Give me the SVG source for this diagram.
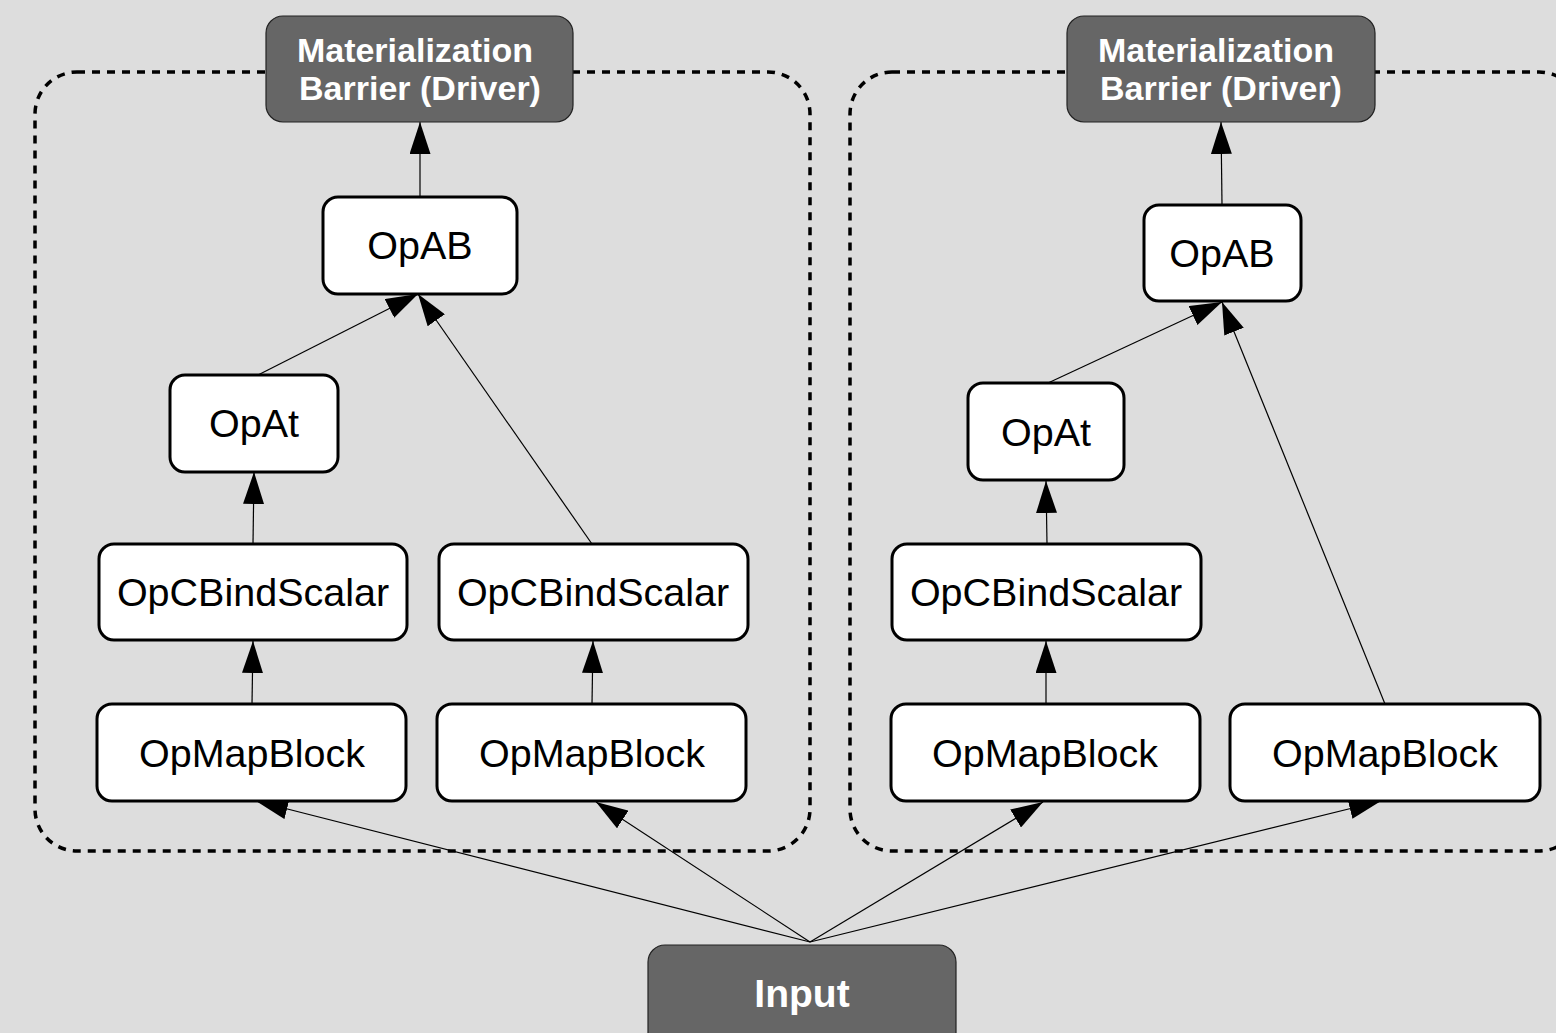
<svg xmlns="http://www.w3.org/2000/svg" width="1556" height="1033" viewBox="0 0 1556 1033">
  <style>
    .cluster { fill: none; stroke: #000; stroke-width: 3.5; stroke-dasharray: 8 7; }
    .op rect { fill: #fff; stroke: #000; stroke-width: 3; }
    .op text { font-family: "Liberation Sans", Arial, sans-serif; font-size: 39.5px; fill: #000; text-anchor: middle; }
    .dark rect { fill: #666; stroke: #222; stroke-width: 1.2; }
    .dark text { font-family: "Liberation Sans", Arial, sans-serif; font-weight: bold; fill: #fff; text-anchor: middle; }
    .edges line { stroke: #000; stroke-width: 1.2; marker-end: url(#arrow); }
  </style>
  <defs>
    <marker id="arrow" viewBox="0 0 32 21" refX="32" refY="10.5" markerWidth="32" markerHeight="21" markerUnits="userSpaceOnUse" orient="auto">
      <path d="M0,0 L32,10.5 L0,21 Z" fill="#000"/>
    </marker>
  </defs>

  <rect width="1556" height="1033" fill="#dddddd"/>

  <!-- dashed subgraph outlines -->
  <g id="clusters">
    <rect class="cluster" x="35" y="72" width="775" height="779" rx="42" ry="42"/>
    <rect class="cluster" x="850" y="72" width="731" height="779" rx="42" ry="42"/>
  </g>

  <!-- connectors -->
  <g id="edges" class="edges">
    <line x1="420" y1="197" x2="420" y2="122"/>
    <line x1="258" y1="375" x2="418" y2="294"/>
    <line x1="592" y1="544" x2="418" y2="294"/>
    <line x1="253" y1="544" x2="254" y2="472"/>
    <line x1="252" y1="704" x2="253" y2="641"/>
    <line x1="592" y1="704" x2="593" y2="641"/>

    <line x1="1222" y1="205" x2="1221" y2="122"/>
    <line x1="1048" y1="383" x2="1222" y2="302"/>
    <line x1="1385" y1="704" x2="1222" y2="302"/>
    <line x1="1047" y1="544" x2="1046" y2="481"/>
    <line x1="1046" y1="704" x2="1046" y2="641"/>

    <line x1="810" y1="942" x2="256" y2="801"/>
    <line x1="810" y1="942" x2="596" y2="802"/>
    <line x1="810" y1="942" x2="1043" y2="802"/>
    <line x1="810" y1="942" x2="1381" y2="801"/>
  </g>

  <!-- left pipeline -->
  <g id="barrier_left" class="dark">
    <rect x="266" y="16" width="307" height="106" rx="17" ry="17"/>
    <text x="415" y="62" font-size="34">Materialization</text>
    <text x="420" y="100" font-size="34">Barrier (Driver)</text>
  </g>
  <g id="opab_left" class="op">
    <rect x="323" y="197" width="194" height="97" rx="15" ry="15"/>
    <text x="420" y="259">OpAB</text>
  </g>
  <g id="opat_left" class="op">
    <rect x="170" y="375" width="168" height="97" rx="15" ry="15"/>
    <text x="254" y="437">OpAt</text>
  </g>
  <g id="opcbind_left_1" class="op">
    <rect x="99" y="544" width="308" height="96" rx="15" ry="15"/>
    <text x="253" y="606">OpCBindScalar</text>
  </g>
  <g id="opcbind_left_2" class="op">
    <rect x="439" y="544" width="309" height="96" rx="15" ry="15"/>
    <text x="593" y="606">OpCBindScalar</text>
  </g>
  <g id="opmap_left_1" class="op">
    <rect x="97" y="704" width="309" height="97" rx="15" ry="15"/>
    <text x="252" y="767">OpMapBlock</text>
  </g>
  <g id="opmap_left_2" class="op">
    <rect x="437" y="704" width="309" height="97" rx="15" ry="15"/>
    <text x="592" y="767">OpMapBlock</text>
  </g>

  <!-- right pipeline -->
  <g id="barrier_right" class="dark">
    <rect x="1067" y="16" width="308" height="106" rx="17" ry="17"/>
    <text x="1216" y="62" font-size="34">Materialization</text>
    <text x="1221" y="100" font-size="34">Barrier (Driver)</text>
  </g>
  <g id="opab_right" class="op">
    <rect x="1144" y="205" width="157" height="96" rx="15" ry="15"/>
    <text x="1222" y="267">OpAB</text>
  </g>
  <g id="opat_right" class="op">
    <rect x="968" y="383" width="156" height="97" rx="15" ry="15"/>
    <text x="1046" y="446">OpAt</text>
  </g>
  <g id="opcbind_right" class="op">
    <rect x="892" y="544" width="309" height="96" rx="15" ry="15"/>
    <text x="1046" y="606">OpCBindScalar</text>
  </g>
  <g id="opmap_right_1" class="op">
    <rect x="891" y="704" width="309" height="97" rx="15" ry="15"/>
    <text x="1045" y="767">OpMapBlock</text>
  </g>
  <g id="opmap_right_2" class="op">
    <rect x="1230" y="704" width="310" height="97" rx="15" ry="15"/>
    <text x="1385" y="767">OpMapBlock</text>
  </g>

  <!-- shared source -->
  <g id="input" class="dark">
    <rect x="648" y="945" width="308" height="106" rx="17" ry="17"/>
    <text x="802" y="1007" font-size="39">Input</text>
  </g>
</svg>
